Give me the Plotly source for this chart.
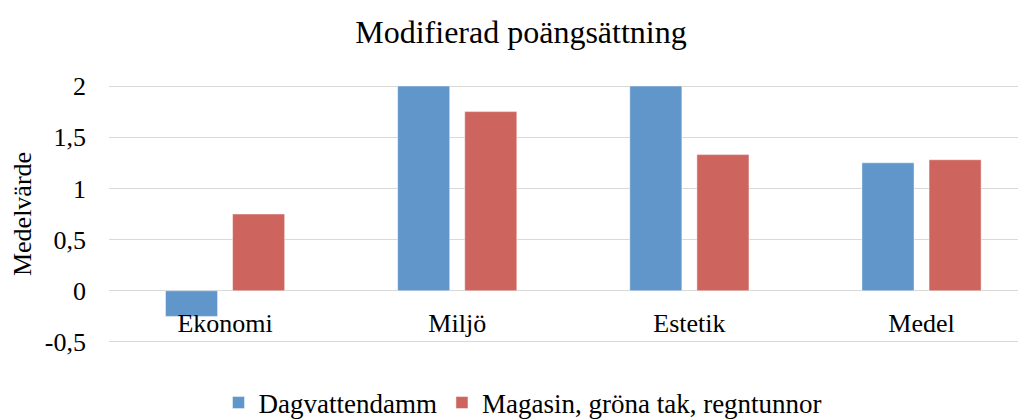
import plotly.graph_objects as go

categories = ["Ekonomi", "Miljö", "Estetik", "Medel"]
dagvattendamm = [-0.25, 2.0, 2.0, 1.25]
magasin = [0.75, 1.75, 1.33, 1.28]
series_names = ["Dagvattendamm", "Magasin, gröna tak, regntunnor"]
y_ticks = [-0.5, 0, 0.5, 1, 1.5, 2]
y_tick_labels = ["-0,5", "0", "0,5", "1", "1,5", "2"]
title_text = "Modifierad poängsättning"
y_title = "Medelvärde"

FONT = "Liberation Serif"
BLUE = "#6096ca"
RED = "#cd655e"

# the page adds an 8 px body margin, so the figure is drawn 8 px smaller
W, H = 1018, 411
L, T = 101, 77
y_lo, y_hi = -0.51, 2.01
plot_h = 258
B = H - T - plot_h

fig = go.Figure()
fig.add_trace(go.Bar(x=categories, y=dagvattendamm, name=series_names[0],
                     marker=dict(color=BLUE, line=dict(color="rgba(255,255,255,0.45)", width=1))))
fig.add_trace(go.Bar(x=categories, y=magasin, name=series_names[1],
                     marker=dict(color=RED, line=dict(color="rgba(255,255,255,0.45)", width=1))))

fig.update_layout(
    width=W, height=H,
    autosize=False,
    margin=dict(l=L, r=0, t=T, b=B, autoexpand=False),
    paper_bgcolor="white", plot_bgcolor="white",
    font=dict(family=FONT, size=26, color="#000000"),
    title=dict(text=title_text, x=(513) / W, xanchor="center", xref="container",
               y=1 - 24 / H, yref="container", yanchor="middle",
               font=dict(family=FONT, size=32, color="#000000")),
    barmode="group", bargap=0.422, bargroupgap=0.224,
    showlegend=True,
    legend=dict(orientation="h", x=(515 - L) / (W - L), xref="paper", xanchor="center",
                y=-60 / plot_h, yanchor="middle", font=dict(family=FONT, size=27, color="#000000"),
                itemwidth=30, traceorder="normal", tracegroupgap=0),
    xaxis=dict(range=[-0.5, 3.45], showgrid=False, zeroline=False, showline=False,
               automargin=False, tickangle=0,
               ticks="", anchor="free", position=(0 - y_lo) / (y_hi - y_lo),
               ticklabelstandoff=14, tickfont=dict(family=FONT, size=26, color="#000000")),
    yaxis=dict(range=[y_lo, y_hi], tickvals=y_ticks, ticktext=y_tick_labels,
               automargin=False,
               showgrid=True, gridcolor="#d9d9d9", gridwidth=1.3,
               zeroline=True, zerolinecolor="#d9d9d9", zerolinewidth=1.3,
               showline=False, ticks="", ticklabelstandoff=22,
               tickfont=dict(family=FONT, size=26, color="#000000"),
               title=dict(text=y_title, standoff=8, font=dict(family=FONT, size=26, color="#000000"))),
)

fig.write_html("out.html")
